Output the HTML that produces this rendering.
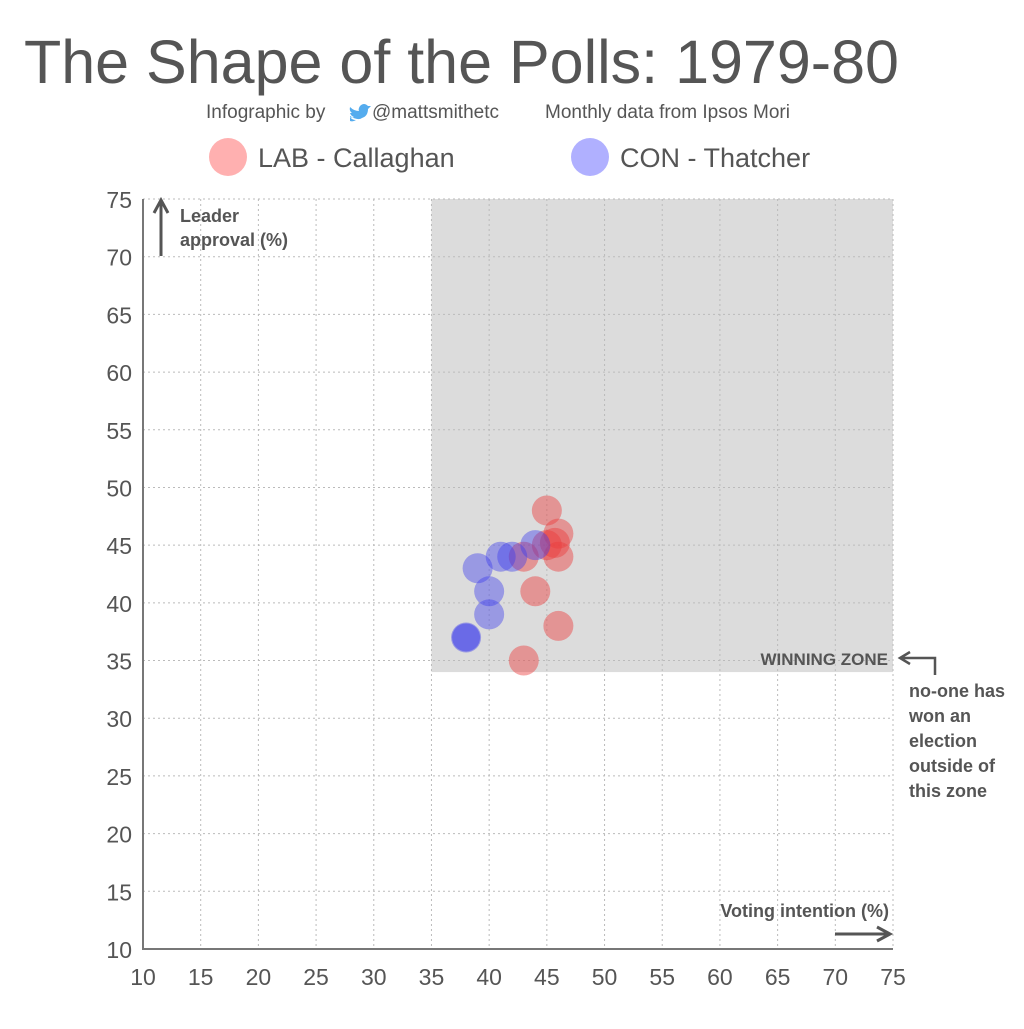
<!DOCTYPE html>
<html><head><meta charset="utf-8"><style>
body{margin:0;background:#fff;}
svg text{font-family:"Liberation Sans",sans-serif;fill:#555;}
</style></head><body>
<svg id="c" width="1024" height="1024" viewBox="0 0 1024 1024">
<text x="24" y="83" font-size="61">The Shape of the Polls: 1979-80</text>
<text x="206" y="118" font-size="19">Infographic by</text>
<path transform="translate(0,12)" d="M350 104 q8 5 12 2 q6 -2 6 -9 l3 -3 l-3 0 q-4 -4 -8 0 q-2 3 -1 5 q-5 0 -9 -4 q-1 4 2 6 q-2 0 -2 0 q1 3 4 4 q-2 1 -4 0 q2 3 6 3 q-3 2 -6 1z" fill="#55acee"/>
<text x="372" y="118" font-size="19">@mattsmithetc</text>
<text x="545" y="118" font-size="19">Monthly data from Ipsos Mori</text>
<circle cx="228" cy="157" r="19" fill="#ffb0b0"/>
<text x="258" y="167" font-size="27">LAB - Callaghan</text>
<circle cx="590" cy="157" r="19" fill="#b0b0ff"/>
<text x="620" y="167" font-size="27">CON - Thatcher</text>
<g id="plot"></g>
</svg>
<script>
const xTicks=[10,15,20,25,30,35,40,45,50,55,60,65,70,75];
const yTicks=[10,15,20,25,30,35,40,45,50,55,60,65,70,75];
const labX=[45,46,45,45.7,46,44,46,43,43];
const labY=[48,46,45,45.2,44,41,38,35,44];
const conX=[38,40,40,39,41,42,44];
const conY=[37,39,41,43,44,44,45];
const zone=[35,34,75,75];
const NS="http://www.w3.org/2000/svg";
const X=v=>143+(v-10)*750/65, Y=v=>949-(v-10)*750/65;
const g=document.getElementById('plot');
function el(t,a){const e=document.createElementNS(NS,t);for(const k in a)e.setAttribute(k,a[k]);g.appendChild(e);return e;}
let z=el('rect',{x:X(zone[0]),y:Y(zone[3]),width:X(zone[2])-X(zone[0]),height:Y(zone[1])-Y(zone[3]),fill:'#dcdcdc'});


xTicks.forEach(v=>{
 let l=el('line',{x1:X(v),x2:X(v),y1:Y(75),y2:Y(10),stroke:'#bbb','stroke-dasharray':'2,3'});
 
 
 let t=el('text',{x:X(v),y:985,'font-size':23,'text-anchor':'middle'});t.textContent=v;
 
 
});
yTicks.forEach(v=>{
 let l=el('line',{x1:X(10),x2:X(75),y1:Y(v),y2:Y(v),stroke:'#bbb','stroke-dasharray':'2,3'});
 
 
 let t=el('text',{x:132,y:Y(v)+9,'font-size':23,'text-anchor':'end'});t.textContent=v;
 
 
});
let ax=el('path',{d:`M${X(10)} ${Y(75)} V${Y(10)} H${X(75)}`,fill:'none',stroke:'#777','stroke-width':2});


labX.forEach((v,i)=>{let c=el('circle',{cx:X(v),cy:Y(labY[i]),r:15,fill:'rgba(235,60,60,0.45)'});
 
 });
conX.forEach((v,i)=>{let c=el('circle',{cx:X(v),cy:Y(conY[i]),r:15,fill:'rgba(60,60,235,0.42)'});
 
 });
let d1=el('circle',{cx:X(38),cy:Y(37),r:14,fill:'rgba(60,60,235,0.5)'});


function txt(x,y,s,str,name,anchor){let t=el('text',{x:x,y:y,'font-size':s,'font-weight':'bold','text-anchor':anchor||'start'});t.textContent=str;
 
 return t;}
let a1=el('path',{d:'M161 256 V202 M154 213 L161 200 L168 213',stroke:'#555','stroke-width':3,fill:'none'});


txt(180,222,18,'Leader','y-axis-title');
txt(180,246,18,'approval (%)','y-axis-title-2');
txt(889,917,18,'Voting intention (%)','x-axis-title','end');
let a2=el('path',{d:'M835 934 H888 M877 927 L890 934 L877 941',stroke:'#555','stroke-width':3,fill:'none'});


txt(888,665,17,'WINNING ZONE','winning-zone-label','end');
let a3=el('path',{d:'M902 658 H935 V675 M910 652 L900 658 L910 664',stroke:'#555','stroke-width':2.5,fill:'none'});


['no-one has','won an','election','outside of','this zone'].forEach((s,i)=>txt(909,697+i*25,18,s,'zone-note'));
</script>
</body></html>
